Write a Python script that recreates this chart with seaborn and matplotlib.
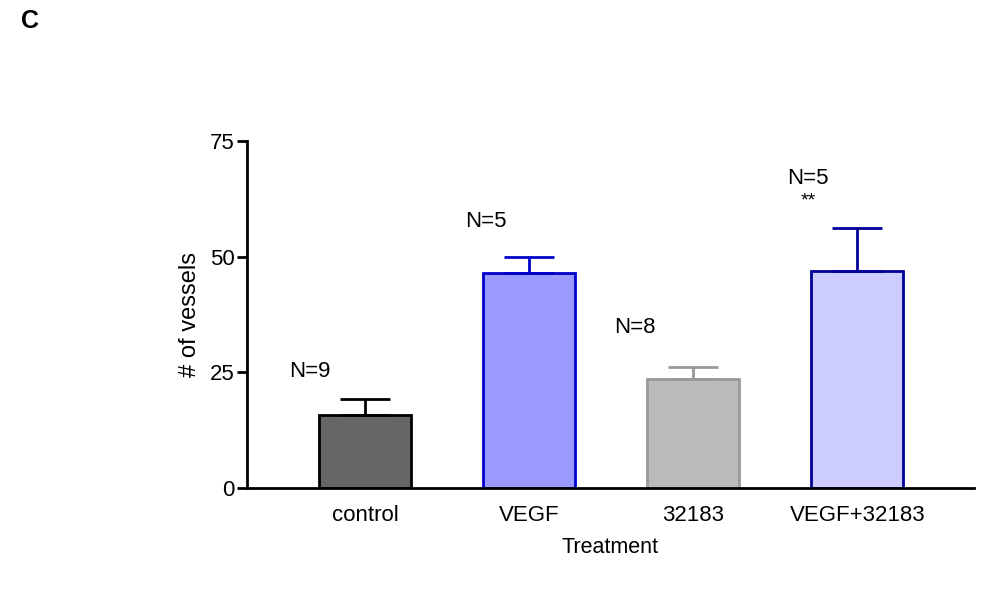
#!/usr/bin/env python3

"""Bar chart of vessel counts per treatment with SEM error bars."""

import seaborn as sns
import pandas as pd
import matplotlib.pyplot as plt

# DATA
treatments = ["control", "VEGF", "32183", "VEGF+32183"]
means = [15.8, 46.4, 23.6, 46.8]
sems = [3.5, 3.5, 2.6, 9.3]
n_labels = ["N=9", "N=5", "N=8", "N=5\n**"]

# STYLE
fills = ["#666666", "#9999ff", "#bbbbbb", "#ccccff"]
edges = ["#000000", "#0000cc", "#999999", "#000099"]
label_x = [-0.335, 0.735, 1.646, 2.70]
label_y = [25.1, 57.7, 34.6, 67.0]

sns.set_theme(style="ticks")
plt.rcParams["font.family"] = ["Liberation Sans", "DejaVu Sans"]
plt.rcParams["text.color"] = "black"
plt.rcParams["axes.labelcolor"] = "black"
plt.rcParams["xtick.color"] = "black"
plt.rcParams["ytick.color"] = "black"

df = pd.DataFrame({"Treatment": treatments, "Vessels": means})

fig = plt.figure(figsize=(9.97, 6.0), dpi=100)
ax = fig.add_axes([0.2477, 0.1867, 0.7292, 0.5783])

sns.barplot(data=df, x="Treatment", y="Vessels", hue="Treatment",
            palette=fills, saturation=1, width=0.56, legend=False,
            ax=ax, errorbar=None)

for bar, ec in zip(ax.patches, edges):
    bar.set_edgecolor(ec)
    bar.set_linewidth(2)

# one-sided error bars (upward only)
for i, (m, s, ec) in enumerate(zip(means, sems, edges)):
    ax.errorbar(i, m, yerr=[[0], [s]], fmt="none", ecolor=ec,
                elinewidth=2, capsize=18, capthick=2, zorder=1)

for x, y, t in zip(label_x, label_y, n_labels):
    if "\n" in t:
        top, star = t.split("\n")
        ax.text(x, y, top, ha="center", va="center", fontsize=16)
        ax.text(x, y - 5.0, star, ha="center", va="center", fontsize=14)
    else:
        ax.text(x, y, t, ha="center", va="center", fontsize=16)

ax.set_xlim(-0.72, 3.71)
ax.set_ylim(0, 75)
ax.set_yticks([0, 25, 50, 75])
ax.tick_params(axis="y", length=7, width=2, labelsize=16, pad=2)
ax.tick_params(axis="x", length=0, labelsize=16, pad=12)
ax.set_xlabel("Treatment", fontsize=15.5, labelpad=8)
ax.set_ylabel("# of vessels", fontsize=17, labelpad=6)

sns.despine(ax=ax)
for side in ["left", "bottom"]:
    ax.spines[side].set_linewidth(2)
    ax.spines[side].set_color("black")

fig.text(0.021, 0.965, "C", fontsize=18, fontweight="bold", ha="left", va="center")

plt.savefig("out.png", dpi=100)
